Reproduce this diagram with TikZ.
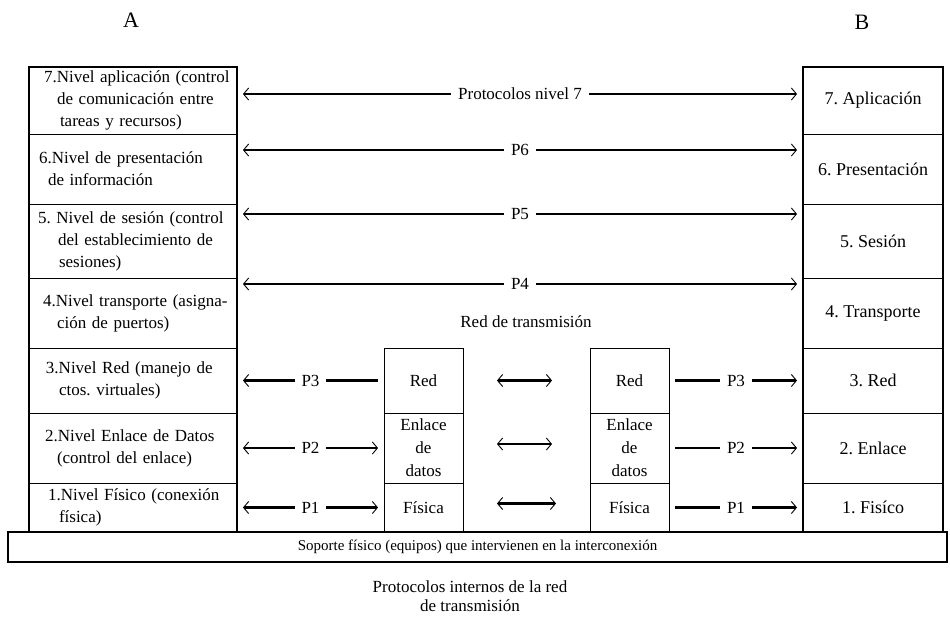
\documentclass[tikz,border=0pt]{standalone}
\usepackage{fontspec}
\setmainfont{Liberation Serif}
\frenchspacing
\usetikzlibrary{arrows.meta, positioning}

\tikzset{
  capa/.style={draw, line width=0.8pt, inner sep=0pt, outer sep=0pt, font=\fontsize{17}{22}\selectfont},
  capaA/.style={capa, text width=208pt, align=left},
  capaB/.style={capa, minimum width=140pt, align=center, font=\fontsize{18}{22}\selectfont},
  interm/.style={capa, minimum width=79pt, align=center, font=\fontsize{17}{23}\selectfont},
  proto/.style={line width=2.2pt, shorten <=6pt, shorten >=6pt},
  etiq/.style={fill=white, inner xsep=7pt, inner ysep=1pt, font=\fontsize{17}{20}\selectfont},
}

\begin{document}
\begin{tikzpicture}[x=1pt, y=-1pt, >={Straight Barb[length=5pt, width=12pt, line width=0.9pt]}]
\useasboundingbox (0,0) rectangle (950,619);
\node[font=\fontsize{22}{22}\selectfont] (sisA) at (131,20) {A};
\node[font=\fontsize{22}{22}\selectfont] (sisB) at (862,22) {B};
% pila del sistema A
\node[capaA, anchor=north west, minimum height=67pt] (A7) at (29,67) {\hspace*{15pt}7.Nivel aplicación (control\\\hspace*{28pt}de comunicación entre\\\hspace*{31pt}tareas y recursos)};
\node[capaA, minimum height=70pt, below=0pt of A7] (A6) {\hspace*{10pt}6.Nivel de presentación\\\hspace*{19pt}de información};
\node[capaA, minimum height=74pt, below=0pt of A6] (A5) {\hspace*{9pt}5. Nivel de sesión (control\\\hspace*{29pt}del establecimiento de\\\hspace*{30pt}sesiones)};
\node[capaA, minimum height=70pt, below=0pt of A5] (A4) {\hspace*{14pt}4.Nivel transporte (asigna-\\\hspace*{28pt}ción de puertos)};
\node[capaA, minimum height=65pt, below=0pt of A4] (A3) {\hspace*{17pt}3.Nivel Red (manejo de\\\hspace*{30pt}ctos. virtuales)};
\node[capaA, minimum height=70pt, below=0pt of A3] (A2) {\hspace*{16pt}2.Nivel Enlace de Datos\\\hspace*{28pt}(control del enlace)};
\node[capaA, minimum height=49pt, below=0pt of A2] (A1) {\hspace*{19pt}1.Nivel Físico (conexión\\\hspace*{30pt}física)};
\draw[line width=2.4pt] (A7.north west) rectangle (A1.south east);
% pila del sistema B
\node[capaB, anchor=north west, minimum height=67pt] (B7) at (803,67) {7. Aplicación};
\node[capaB, minimum height=70pt, below=0pt of B7] (B6) {6. Presentación};
\node[capaB, minimum height=74pt, below=0pt of B6] (B5) {5. Sesión};
\node[capaB, minimum height=70pt, below=0pt of B5] (B4) {4. Transporte};
\node[capaB, minimum height=65pt, below=0pt of B4] (B3) {3. Red};
\node[capaB, minimum height=70pt, below=0pt of B3] (B2) {2. Enlace};
\node[capaB, minimum height=49pt, below=0pt of B2] (B1) {1. Fisíco};
\draw[line width=2.4pt] (B7.north west) rectangle (B1.south east);
% nodos intermedios de la red
\node[interm, anchor=north west, minimum height=65pt] (R3) at (384,348) {Red};
\node[interm, minimum height=70pt, below=0pt of R3] (R2) {Enlace\\de\\datos};
\node[interm, minimum height=49pt, below=0pt of R2] (R1) {Física};
\node[interm, anchor=north west, minimum height=65pt] (S3) at (590,348) {Red};
\node[interm, minimum height=70pt, below=0pt of S3] (S2) {Enlace\\de\\datos};
\node[interm, minimum height=49pt, below=0pt of S2] (S1) {Física};
\node[capa, line width=2.4pt, anchor=north west, minimum width=939pt, minimum height=30pt, font=\fontsize{15}{18}\selectfont] (soporte) at (8,532) {Soporte físico (equipos) que intervienen en la interconexión};
% protocolos extremo a extremo
\draw[proto, <->] ([yshift=-27pt]A7.north east) -- ([yshift=-27pt]B7.north west) node[etiq, midway] {Protocolos nivel 7};
\draw[proto, <->] ([yshift=-16pt]A6.north east) -- ([yshift=-16pt]B6.north west) node[etiq, midway] {P6};
\draw[proto, <->] ([yshift=-10pt]A5.north east) -- ([yshift=-10pt]B5.north west) node[etiq, midway] {P5};
\draw[proto, <->] ([yshift=-6pt]A4.north east) -- ([yshift=-6pt]B4.north west) node[etiq, midway] {P4};
\node[font=\fontsize{17}{20}\selectfont] (redtx) at (526,322) {Red de transmisión};
% protocolos por tramo
\draw[proto, <-] (A3.east) -- (R3.west) node[etiq, midway] {P3};
\draw[proto, <->] (A2.east) -- (R2.west) node[etiq, midway] {P2};
\draw[proto, <->] (A1.east) -- (R1.west) node[etiq, midway] {P1};
\draw[proto, ->] (S3.east) -- (B3.west) node[etiq, midway] {P3};
\draw[proto, ->] (S2.east) -- (B2.west) node[etiq, midway] {P2};
\draw[proto, ->] (S1.east) -- (B1.west) node[etiq, midway] {P1};
\draw[proto, <->, shorten <=34pt, shorten >=38pt] (R3.east) -- (S3.west);
\draw[proto, <->, shorten <=34pt, shorten >=38pt] ([yshift=4pt]R2.east) -- ([yshift=4pt]S2.west);
\draw[proto, <->, shorten <=34pt, shorten >=34pt] ([yshift=4pt]R1.east) -- ([yshift=4pt]S1.west);
\node[align=center, font=\fontsize{17}{19}\selectfont] (interno) at (470,596) {Protocolos internos de la red\\de transmisión};
\end{tikzpicture}
\end{document}
